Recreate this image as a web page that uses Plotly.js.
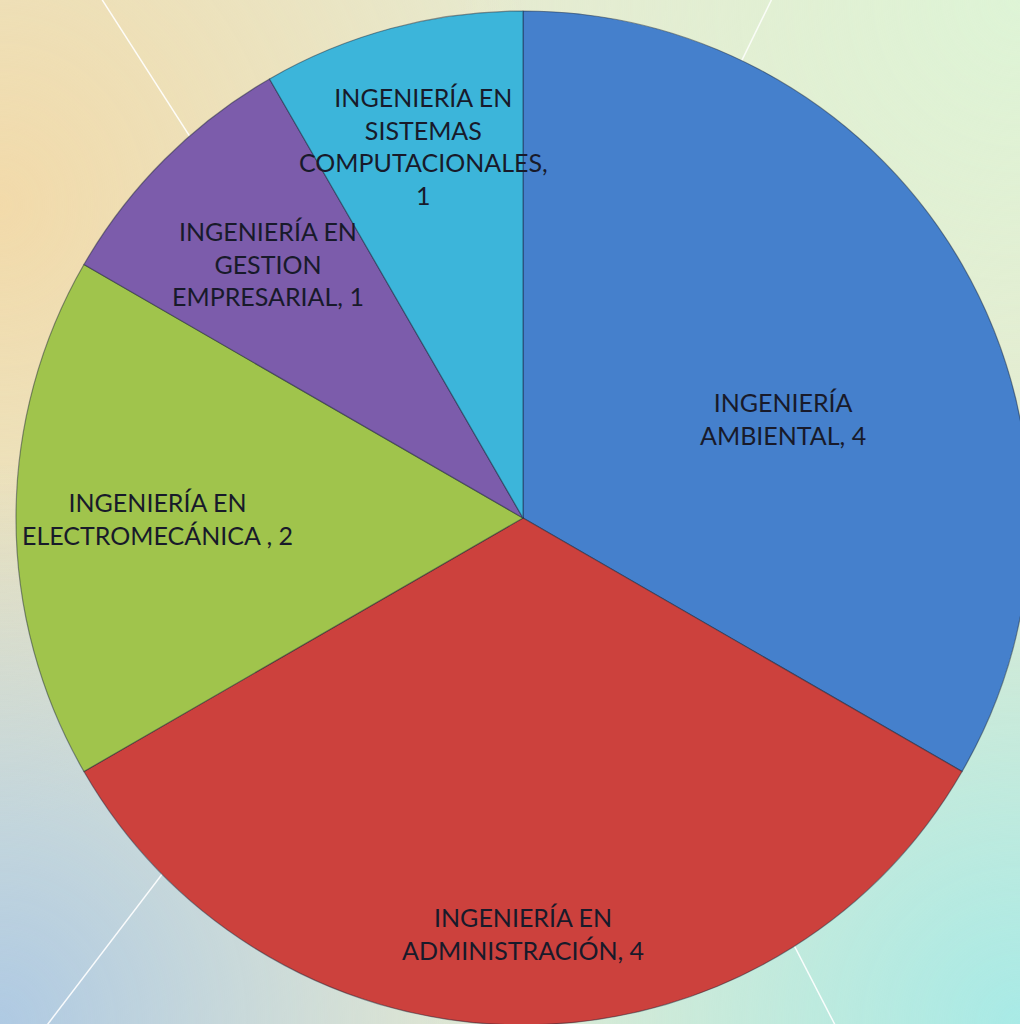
<!DOCTYPE html>
<html>
<head>
<meta charset="utf-8">
<script src="https://cdn.plot.ly/plotly-3.0.1.min.js"></script>
<style>
  html, body { margin: 0; padding: 0; width: 1020px; height: 1024px; overflow: hidden; }
  body {
    background:
      radial-gradient(ellipse 520px 560px at 0% 100%, rgba(172,200,228,0.95) 0%, rgba(172,200,228,0) 100%),
      radial-gradient(ellipse 600px 600px at 100% 100%, rgba(168,234,230,1) 0%, rgba(168,234,230,0) 100%),
      radial-gradient(ellipse 560px 560px at 100% 0%, rgba(222,244,214,1) 0%, rgba(222,244,214,0) 100%),
      radial-gradient(ellipse 560px 620px at 0% 20%, rgba(242,218,170,1) 0%, rgba(242,218,170,0) 100%),
      #e6ead0;
  }
  #chart { position: absolute; left: 0; top: 0; width: 1040px; height: 1040px; }
</style>
</head>
<body>
<div id="chart"></div>
<script>
const categories = [
  "INGENIERÍA AMBIENTAL",
  "INGENIERÍA EN ADMINISTRACIÓN",
  "INGENIERÍA EN ELECTROMECÁNICA ",
  "INGENIERÍA EN GESTION EMPRESARIAL",
  "INGENIERÍA EN SISTEMAS COMPUTACIONALES"
];
const values = [4, 4, 2, 1, 1];
const labelText = [
  "INGENIERÍA<br>AMBIENTAL, 4",
  "INGENIERÍA EN<br>ADMINISTRACIÓN, 4",
  "INGENIERÍA EN<br>ELECTROMECÁNICA , 2",
  "INGENIERÍA EN<br>GESTION<br>EMPRESARIAL, 1",
  "INGENIERÍA EN<br>SISTEMAS<br>COMPUTACIONALES,<br>1"
];
const colors = ["#4580cc", "#cc413d", "#a0c44c", "#7c5cab", "#3cb5da"];

// label placement style (fraction of radius along slice bisector, small angle tweak in degrees)
const labelRadius = [0.55, 0.82, 0.72, 0.71, 0.76];
const labelAngleTweak = [9, 0, 0, 0, 0];

const trace = {
  type: "pie",
  labels: categories,
  values: values,
  textinfo: "none",
  textposition: "none",
  sort: false,
  direction: "clockwise",
  rotation: 0,
  hole: 0,
  marker: { colors: colors, line: { color: "rgba(20,30,50,0.45)", width: 1.2 } },
  domain: { x: [0, 1], y: [0, 1] },
  showlegend: false,
  hoverinfo: "label+value"
};

// compute label positions from the slice angles
const total = values.reduce((a, b) => a + b, 0);
let cum = 0;
const annotations = values.map((v, i) => {
  const mid = (cum + v / 2) / total * 360 + labelAngleTweak[i];
  cum += v;
  const rad = mid * Math.PI / 180;
  return {
    xref: "paper", yref: "paper",
    x: 0.5 + labelRadius[i] * 0.5 * Math.sin(rad),
    y: 0.5 + labelRadius[i] * 0.5 * Math.cos(rad),
    text: labelText[i],
    showarrow: false,
    xanchor: "center", yanchor: "middle", align: "center",
    font: { family: "Lato, 'Open Sans', sans-serif", size: 25, color: "#181a2a" }
  };
});

const layout = {
  width: 1040,
  height: 1040,
  margin: { l: 16, r: 10, t: 11, b: 15 },
  paper_bgcolor: "rgba(0,0,0,0)",
  plot_bgcolor: "rgba(0,0,0,0)",
  showlegend: false,
  annotations: annotations,
  shapes: [
    { type: "line", xref: "paper", yref: "paper", x0: 0.085, y0: 1.011, x1: 0.40, y1: 0.52, line: { color: "rgba(255,255,255,0.9)", width: 1.5 }, layer: "below" },
    { type: "line", xref: "paper", yref: "paper", x0: 0.745, y0: 1.011, x1: 0.52, y1: 0.55, line: { color: "rgba(255,255,255,0.8)", width: 1.5 }, layer: "below" },
    { type: "line", xref: "paper", yref: "paper", x0: 0.02, y0: -0.014, x1: 0.45, y1: 0.55, line: { color: "rgba(255,255,255,0.9)", width: 1.5 }, layer: "below" },
    { type: "line", xref: "paper", yref: "paper", x0: 0.815, y0: -0.014, x1: 0.55, y1: 0.50, line: { color: "rgba(255,255,255,0.9)", width: 1.5 }, layer: "below" }
  ]
};

Plotly.newPlot("chart", [trace], layout, { displayModeBar: false, staticPlot: true });
</script>
</body>
</html>
